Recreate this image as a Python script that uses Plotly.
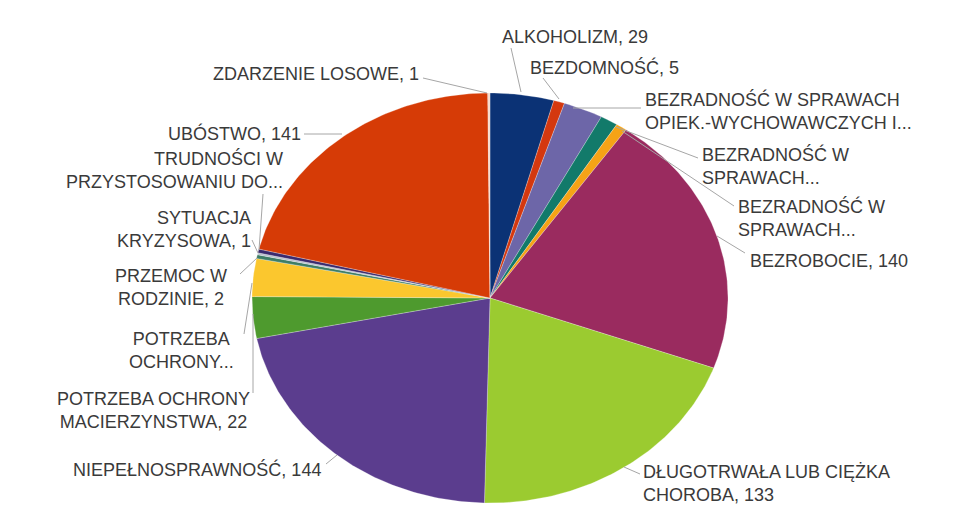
import numpy as np
import plotly.graph_objects as go

# ---- data ----
categories = [
    "ALKOHOLIZM", "BEZDOMNOŚĆ", "BEZRADNOŚĆ W SPRAWACH OPIEK.-WYCHOWAWCZYCH I...",
    "BEZRADNOŚĆ W SPRAWACH... (2)", "BEZRADNOŚĆ W SPRAWACH... (3)", "BEZROBOCIE",
    "DŁUGOTRWAŁA LUB CIĘŻKA CHOROBA", "NIEPEŁNOSPRAWNOŚĆ",
    "POTRZEBA OCHRONY MACIERZYNSTWA", "POTRZEBA OCHRONY...", "PRZEMOC W RODZINIE",
    "SYTUACJA KRYZYSOWA", "TRUDNOŚCI W PRZYSTOSOWANIU DO...", "UBÓSTWO", "ZDARZENIE LOSOWE",
]
values = [29, 5, 18, 8, 5, 140, 133, 144, 22, 20, 2, 1, 2, 141, 1]
colors = [
    "#0b3275", "#d4380f", "#6d66a8", "#127a6a", "#f5a316", "#9a2b5f",
    "#9bcb30", "#5b3d8e", "#4e9a2e", "#fbc72e", "#3e7e66", "#b8c0cc",
    "#3b2a6e", "#d63b06", "#f6d8c8",
]

# label texts (as shown in the chart)
label_texts = [
    "ALKOHOLIZM, 29",
    "BEZDOMNOŚĆ, 5",
    "BEZRADNOŚĆ W SPRAWACH<br>OPIEK.-WYCHOWAWCZYCH I...",
    "BEZRADNOŚĆ W<br>SPRAWACH...",
    "BEZRADNOŚĆ W<br>SPRAWACH...",
    "BEZROBOCIE, 140",
    "DŁUGOTRWAŁA LUB CIĘŻKA<br>CHOROBA, 133",
    "NIEPEŁNOSPRAWNOŚĆ, 144",
    "POTRZEBA OCHRONY<br>MACIERZYNSTWA, 22",
    "POTRZEBA<br>OCHRONY...",
    "PRZEMOC W<br>RODZINIE, 2",
    "SYTUACJA<br>KRYZYSOWA, 1",
    "TRUDNOŚCI W<br>PRZYSTOSOWANIU DO...",
    "UBÓSTWO, 141",
    "ZDARZENIE LOSOWE, 1",
]

# ---- layout positions (pixels): (x, y_center, xanchor/align) ----
W, H = 960, 508
label_pos = [
    (492, 29, "left"),
    (520, 59, "left"),
    (635, 103, "left"),
    (692, 158, "left"),
    (728, 210, "left"),
    (740, 253, "left"),
    (633, 475, "left"),
    (315, 461, "right"),
    (145, 402, "center"),
    (173, 342, "center"),
    (163, 279, "center"),
    (245, 221, "right"),
    (277, 162, "right"),
    (295, 125, "right"),
    (413, 66, "right"),
]
leader_pos = [
    ((503, 40), (513, 84)),
    ((535, 70), (551, 91)),
    ((565, 100), (633, 100)),
    ((608, 119), (690, 150)),
    ((614, 123), (726, 198)),
    ((709, 228), (737, 245)),
    ((616, 459), (632, 466)),
    ((329, 447), (318, 456)),
    ((245, 306), (245, 385)),
    ((244, 275), (236, 326)),
    ((249, 250), (232, 266)),
    ((250, 245), (244, 232)),
    ((251, 242), (255, 186)),
    ((296, 126), (334, 126)),
    ((415, 70), (479, 85)),
]

# pie ellipse geometry in pixels -> axis ranges (unit circle in data space)
CX, CY, RX, RY = 482, 290, 238, 205
xr = [-CX / RX, (W - CX) / RX]
yr = [-(H - CY) / RY, CY / RY]

fig = go.Figure()
total = float(sum(values))
cum = np.concatenate([[0.0], np.cumsum(values)]) / total * 2 * np.pi
for i, cat in enumerate(categories):
    a0, a1 = cum[i], cum[i + 1]
    n = max(3, int((a1 - a0) / (2 * np.pi) * 400))
    a = np.linspace(a0, a1, n)
    xs = np.concatenate([[0], np.sin(a), [0]])
    ys = np.concatenate([[0], np.cos(a), [0]])
    fig.add_trace(go.Scatter(
        x=xs, y=ys, mode="lines", fill="toself", fillcolor=colors[i],
        line=dict(color="rgba(255,255,255,0.5)", width=0.5),
        name=cat, hoverinfo="name", showlegend=False,
    ))

def px(x, y):
    return x / W, 1 - y / H

annotations = []
for txt, (x, y, anc) in zip(label_texts, label_pos):
    fx, fy = px(x, y)
    annotations.append(dict(
        x=fx, y=fy, xref="paper", yref="paper", text=txt, showarrow=False,
        xanchor=anc, yanchor="middle", align=anc,
        font=dict(family="Liberation Sans, Arial, sans-serif", size=18, color="#3a3a3a"),
    ))

shapes = []
for (p0, p1) in leader_pos:
    x0, y0 = px(*p0)
    x1, y1 = px(*p1)
    shapes.append(dict(type="line", xref="paper", yref="paper", x0=x0, y0=y0, x1=x1, y1=y1,
                       line=dict(color="#a6a6a6", width=1)))

fig.update_layout(
    width=W, height=H, margin=dict(l=0, r=0, t=0, b=0),
    paper_bgcolor="white", plot_bgcolor="white",
    xaxis=dict(range=xr, visible=False, fixedrange=True),
    yaxis=dict(range=yr, visible=False, fixedrange=True),
    annotations=annotations, shapes=shapes,
)
fig.write_html("out.html")
